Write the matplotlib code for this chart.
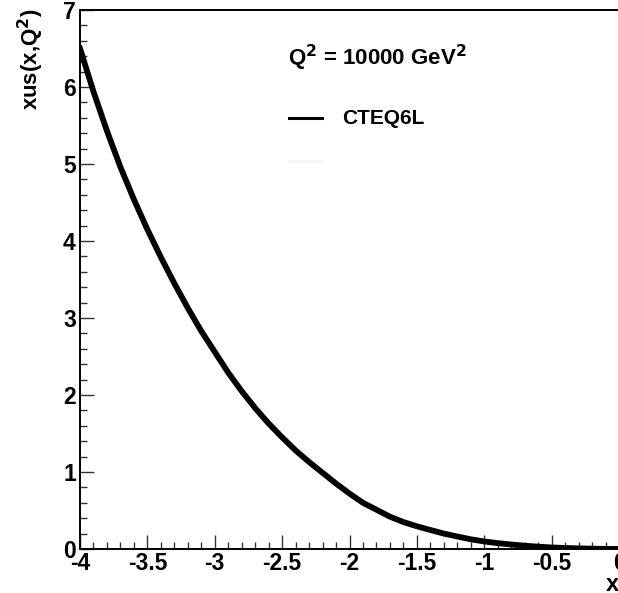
import matplotlib
matplotlib.use("Agg")
import matplotlib.pyplot as plt
from matplotlib.ticker import MultipleLocator

plt.rcParams['font.family'] = ['Liberation Sans', 'DejaVu Sans']
plt.rcParams['font.weight'] = 'bold'
plt.rcParams['mathtext.default'] = 'bf'

# log10(x) grid and x*u_sea(x, Q^2) from CTEQ6L at Q^2 = 10000 GeV^2
log_x = [-4.0, -3.9, -3.8, -3.7, -3.6, -3.5, -3.4, -3.3, -3.2, -3.1,
         -3.0, -2.9, -2.8, -2.7, -2.6, -2.5, -2.4, -2.3, -2.2, -2.1,
         -2.0, -1.9, -1.8, -1.7, -1.6, -1.5, -1.4, -1.3, -1.2, -1.1,
         -1.0, -0.9, -0.8, -0.7, -0.6, -0.5, -0.4, -0.3, -0.2, -0.1, 0.0]
xus = [6.50, 5.94, 5.43, 4.96, 4.54, 4.15, 3.79, 3.45, 3.13, 2.83,
       2.56, 2.29, 2.05, 1.83, 1.63, 1.45, 1.28, 1.13, 0.99, 0.85,
       0.72, 0.60, 0.51, 0.42, 0.35, 0.295, 0.247, 0.20, 0.162, 0.126,
       0.098, 0.076, 0.058, 0.043, 0.030, 0.020, 0.013, 0.008, 0.004, 0.001, 0.0]

x_ticks = [-4, -3.5, -3, -2.5, -2, -1.5, -1, -0.5, 0]
x_tick_labels = ['-4', '-3.5', '-3', '-2.5', '-2', '-1.5', '-1', '-0.5', '0']
y_ticks = [0, 1, 2, 3, 4, 5, 6, 7]

fig = plt.figure(figsize=(6.18, 5.93), dpi=100)
ax = fig.add_axes([80 / 618, 44 / 593, 539 / 618, 539 / 593])

ax.plot(log_x, xus, color='black', lw=4.2, solid_joinstyle='round')

ax.set_xlim(-4, 0)
ax.set_ylim(0, 7)
ax.set_xticks(x_ticks)
ax.set_xticklabels(x_tick_labels)
ax.set_yticks(y_ticks)
ax.xaxis.set_minor_locator(MultipleLocator(0.1))
ax.yaxis.set_minor_locator(MultipleLocator(0.2))
ax.tick_params(which='both', direction='in', top=False, right=False,
               labelsize=16.5, width=1.0, color='#333333')
ax.tick_params(which='major', length=10)
ax.tick_params(which='minor', length=5)
ax.tick_params(axis='x', pad=2)
ax.tick_params(axis='y', pad=3)
for lbl in ax.get_xticklabels() + ax.get_yticklabels():
    lbl.set_fontweight('bold')
for side in ['left', 'bottom', 'top', 'right']:
    ax.spines[side].set_linewidth(1.4)

# axis titles placed ROOT style: right/top aligned at the axis ends
fig.text(31 / 618, 1 - 8 / 593, r'xus(x,Q$^{2}$)', rotation=90,
         ha='center', va='top', fontsize=16, fontweight='bold')
fig.text(619 / 618, 1 - 591 / 593, 'x', ha='right', va='baseline',
         fontsize=17, fontweight='bold')

# header and legend
fig.text(288 / 618, 1 - 65 / 593, r'Q$^{2}$ = 10000 GeV$^{2}$',
         ha='left', va='baseline', fontsize=16, fontweight='bold')
fig.add_artist(plt.Line2D([289 / 618, 322 / 618], [1 - 118 / 593, 1 - 118 / 593],
                          color='black', lw=2.2, transform=fig.transFigure))
fig.add_artist(plt.Line2D([289 / 618, 322 / 618], [1 - 161 / 593, 1 - 161 / 593],
                          color='#f5f5f5', lw=2.2, transform=fig.transFigure))
fig.text(342 / 618, 1 - 118 / 593, 'CTEQ6L', ha='left', va='center',
         fontsize=15, fontweight='bold')

fig.savefig('out.png', dpi=100)
